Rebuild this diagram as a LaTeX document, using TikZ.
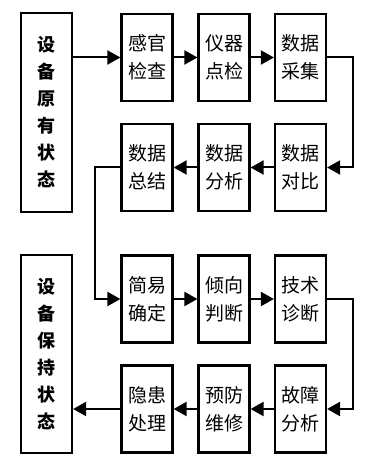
\documentclass[tikz,border=0pt]{standalone}
\usepackage{fontspec}
\newfontfamily\cjk{Noto Sans CJK SC}
\usetikzlibrary{arrows.meta}
\begin{document}
\begin{tikzpicture}[x=1pt,y=1pt,
  box/.style={draw, line width=2.2pt, minimum width=51pt, minimum height=87pt, inner sep=0pt, align=center,
    font=\cjk\fontsize{19pt}{28pt}\selectfont},
  tallbox/.style={draw, line width=2.2pt, minimum width=51pt, inner sep=0pt, align=center,
    font=\cjk\bfseries\fontsize{18pt}{27pt}\selectfont},
  conn/.style={line width=2pt, -{Triangle[length=13pt,width=14pt]}}]
\useasboundingbox (0,0) rectangle (371,472);
\node[tallbox, minimum height=199pt] (t1) at (46.5,359.5) {设\\备\\原\\有\\状\\态};
\node[tallbox, minimum height=198pt] (t2) at (46.5,118) {设\\备\\保\\持\\状\\态};
% row 1
\node[box] (b11) at (147,414.5) {感官\\检查};
\node[box] (b12) at (224,414.5) {仪器\\点检};
\node[box] (b13) at (300.5,414.5) {数据\\采集};
% row 2
\node[box] (b21) at (147,304.5) {数据\\总结};
\node[box] (b22) at (224,304.5) {数据\\分析};
\node[box] (b23) at (300.5,304.5) {数据\\对比};
% row 3
\node[box] (b31) at (147,173) {简易\\确定};
\node[box] (b32) at (224,173) {倾向\\判断};
\node[box] (b33) at (300.5,173) {技术\\诊断};
% row 4
\node[box] (b41) at (147,63) {隐患\\处理};
\node[box] (b42) at (224,63) {预防\\维修};
\node[box] (b43) at (300.5,63) {故障\\分析};
% connectors
\draw[conn] (t1.east |- b11) -- (b11.west);
\draw[conn] (b11) -- (b12);
\draw[conn] (b12) -- (b13);
\draw[conn] (b13.east) -- ++(26,0) |- (b23.east);
\draw[conn] (b23) -- (b22);
\draw[conn] (b22) -- (b21);
\draw[conn] (b21.west) -- ++(-25,0) |- (b31.west);
\draw[conn] (b31) -- (b32);
\draw[conn] (b32) -- (b33);
\draw[conn] (b33.east) -- ++(26,0) |- (b43.east);
\draw[conn] (b43) -- (b42);
\draw[conn] (b42) -- (b41);
\draw[conn] (b41.west) -- (b41.west -| t2.east);
\end{tikzpicture}
\end{document}
